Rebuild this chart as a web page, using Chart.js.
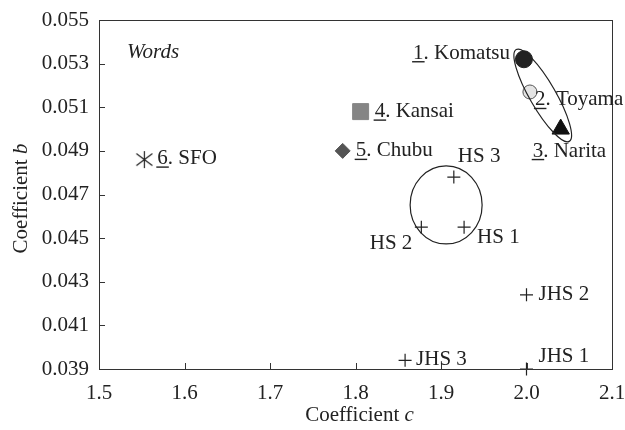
<!DOCTYPE html>
<html><head><meta charset="utf-8">
<script src="https://cdn.jsdelivr.net/npm/chart.js@4/dist/chart.umd.min.js"></script>
<style>html,body{margin:0;padding:0;background:#fff}#wrap{width:625px;height:430px}</style>
</head><body><div id="wrap"><canvas id="c" width="625" height="430"></canvas></div>
<script>
// ---- data ----
const airportNumbers = ['1', '2', '3', '4', '5', '6'];
const airportNames = ['Komatsu', 'Toyama', 'Narita', 'Kansai', 'Chubu', 'SFO'];
const airportC = [1.997, 2.004, 2.040, 1.806, 1.785, 1.553];
const airportB = [0.0532, 0.0517, 0.0500, 0.0508, 0.0490, 0.0486];
const schoolNames = ['HS 1', 'HS 2', 'HS 3', 'JHS 1', 'JHS 2', 'JHS 3'];
const schoolC = [1.927, 1.877, 1.915, 2.000, 2.000, 1.858];
const schoolB = [0.0455, 0.0455, 0.0478, 0.0390, 0.0424, 0.0394];
const xTicks = [1.5, 1.6, 1.7, 1.8, 1.9, 2.0, 2.1];
const yTicks = [0.039, 0.041, 0.043, 0.045, 0.047, 0.049, 0.051, 0.053, 0.055];
const xTitle = 'Coefficient ';
const xTitleVar = 'c';
const yTitle = 'Coefficient ';
const yTitleVar = 'b';
const panelLabel = 'Words';

// ---- styles / placement ----
const FONT = 'Liberation Serif';
const FS = 21;
const TXT = '#222';
const AX = '#333';
const aStyle = ['circle', 'circle', 'triangle', 'rect', 'rectRot', null];
const aRadius = [8.5, 7, 10, 11.3, 7.5, 9];
const aFill = ['#222', '#e4e4e4', '#111', '#858585', '#555', '#222'];
const aBorder = ['#222', '#555', '#111', '#858585', '#555', '#222'];
const aLabelPos = [[-14, -6, 'right'], [5, 8, 'left'], [-28, 22, 'left'], [14, 0, 'left'], [13, 0, 'left'], [13, -1, 'left']];
const sLabelPos = [[13, 10, 'left'], [-9, 16, 'right'], [4, -21, 'left'], [12, -13, 'left'], [12, 0, 'left'], [11, -1, 'left']];

const sfo = document.createElement('canvas');
sfo.width = 19; sfo.height = 19;
(function () {
  const g = sfo.getContext('2d');
  g.strokeStyle = '#222'; g.lineWidth = 1.2;
  g.beginPath();
  g.moveTo(9.5, 1); g.lineTo(9.5, 18);
  g.moveTo(1.5, 3.5); g.lineTo(17.5, 15.5);
  g.moveTo(1.5, 15.5); g.lineTo(17.5, 3.5);
  g.stroke();
})();
aStyle[5] = sfo;

const airportPts = airportC.map((c, i) => ({ x: c, y: airportB[i] }));
const schoolPts = schoolC.map((c, i) => ({ x: c, y: schoolB[i] }));

const plotArea = { left: 99, right: 612, top: 20, bottom: 369 };
const fnt = (it) => (it ? 'italic ' : '') + FS + 'px "' + FONT + '", serif';

const decor = {
  id: 'decor',
  afterDatasetsDraw(chart) {
    const ctx = chart.ctx;
    const xs = chart.scales.x, ys = chart.scales.y;
    const a = chart.chartArea;
    ctx.save();
    ctx.strokeStyle = AX; ctx.lineWidth = 1;
    ctx.strokeRect(Math.round(a.left) + 0.5, Math.round(a.top) + 0.5, Math.round(a.right - a.left), Math.round(a.bottom - a.top));
    ctx.beginPath();
    yTicks.forEach(v => {
      const y = Math.round(ys.getPixelForValue(v)) + 0.5;
      ctx.moveTo(a.left, y); ctx.lineTo(a.left + 6, y);
    });
    xTicks.forEach(v => {
      const x = Math.round(xs.getPixelForValue(v)) + 0.5;
      ctx.moveTo(x, a.bottom); ctx.lineTo(x, a.bottom - 6);
    });
    ctx.stroke();

    ctx.strokeStyle = '#222'; ctx.lineWidth = 1.2;
    ctx.beginPath();
    ctx.ellipse(xs.getPixelForValue(2.019), ys.getPixelForValue(0.05154), 53, 13, 60 * Math.PI / 180, 0, Math.PI * 2);
    ctx.stroke();
    ctx.beginPath();
    ctx.ellipse(xs.getPixelForValue(1.906), ys.getPixelForValue(0.04652), 36, 39, 0, 0, Math.PI * 2);
    ctx.stroke();

    ctx.fillStyle = TXT; ctx.strokeStyle = TXT;
    ctx.font = fnt(false);
    ctx.textBaseline = 'middle';
    airportNames.forEach((n, i) => {
      const px = xs.getPixelForValue(airportC[i]) + aLabelPos[i][0];
      const py = ys.getPixelForValue(airportB[i]) + aLabelPos[i][1];
      const full = airportNumbers[i] + '. ' + n;
      const w = ctx.measureText(full).width;
      const left = aLabelPos[i][2] === 'right' ? px - w : px;
      ctx.textAlign = 'left';
      ctx.fillText(full, left, py);
      const dw = ctx.measureText(airportNumbers[i]).width;
      ctx.lineWidth = 1.4;
      ctx.beginPath();
      ctx.moveTo(left - 1, py + 8.5); ctx.lineTo(left + dw + 1, py + 8.5);
      ctx.stroke();
    });
    schoolNames.forEach((n, i) => {
      const px = xs.getPixelForValue(schoolC[i]) + sLabelPos[i][0];
      const py = ys.getPixelForValue(schoolB[i]) + sLabelPos[i][1];
      ctx.textAlign = sLabelPos[i][2];
      ctx.fillText(n, px, py);
    });

    ctx.font = fnt(true);
    ctx.textAlign = 'left';
    ctx.fillText(panelLabel, 127, 52);

    ctx.font = fnt(false);
    const cx = (a.left + a.right) / 2;
    const w1 = ctx.measureText(xTitle).width;
    ctx.font = fnt(true);
    const w2 = ctx.measureText(xTitleVar).width;
    const sx = cx - (w1 + w2) / 2 + 4;
    ctx.font = fnt(false);
    ctx.fillText(xTitle, sx, 415);
    ctx.font = fnt(true);
    ctx.fillText(xTitleVar, sx + w1, 415);

    ctx.translate(21, (a.top + a.bottom) / 2);
    ctx.rotate(-Math.PI / 2);
    ctx.font = fnt(false);
    const v1 = ctx.measureText(yTitle).width;
    ctx.font = fnt(true);
    const v2 = ctx.measureText(yTitleVar).width;
    const sy = -(v1 + v2) / 2 - 4;
    ctx.font = fnt(false);
    ctx.fillText(yTitle, sy, 0);
    ctx.font = fnt(true);
    ctx.fillText(yTitleVar, sy + v1, 0);
    ctx.restore();
  }
};

new Chart(document.getElementById('c'), {
  type: 'scatter',
  data: {
    datasets: [
      {
        label: 'Airports', data: airportPts, clip: false,
        pointStyle: aStyle, pointRadius: aRadius, pointHoverRadius: aRadius,
        backgroundColor: aFill, borderColor: aBorder, pointBorderWidth: 1
      },
      {
        label: 'Schools', data: schoolPts, clip: false,
        pointStyle: 'cross', pointRadius: 6.5, pointHoverRadius: 6.5,
        borderColor: '#222', backgroundColor: '#222', pointBorderWidth: 1.2
      }
    ]
  },
  options: {
    responsive: false,
    animation: false,
    devicePixelRatio: 1,
    layout: { autoPadding: false, padding: { left: 0, top: plotArea.top, right: 625 - plotArea.right, bottom: 0 } },
    plugins: { legend: { display: false }, tooltip: { enabled: false } },
    scales: {
      x: {
        type: 'linear', min: 1.5, max: 2.1,
        afterBuildTicks: s => { s.ticks = xTicks.map(v => ({ value: v })); },
        afterFit: s => { s.height = 430 - plotArea.bottom; s.paddingLeft = 0; s.paddingRight = 0; },
        grid: { display: false, drawTicks: false },
        border: { display: false },
        ticks: { padding: 12, color: TXT, font: { family: FONT, size: FS }, callback: v => Number(v).toFixed(1) }
      },
      y: {
        type: 'linear', min: 0.039, max: 0.055,
        afterBuildTicks: s => { s.ticks = yTicks.map(v => ({ value: v })); },
        afterFit: s => { s.width = plotArea.left; s.paddingTop = 0; s.paddingBottom = 0; },
        grid: { display: false, drawTicks: false },
        border: { display: false },
        ticks: { padding: 10, color: TXT, font: { family: FONT, size: FS }, callback: v => Number(v).toFixed(3) }
      }
    }
  },
  plugins: [decor]
});
</script>
</body></html>
